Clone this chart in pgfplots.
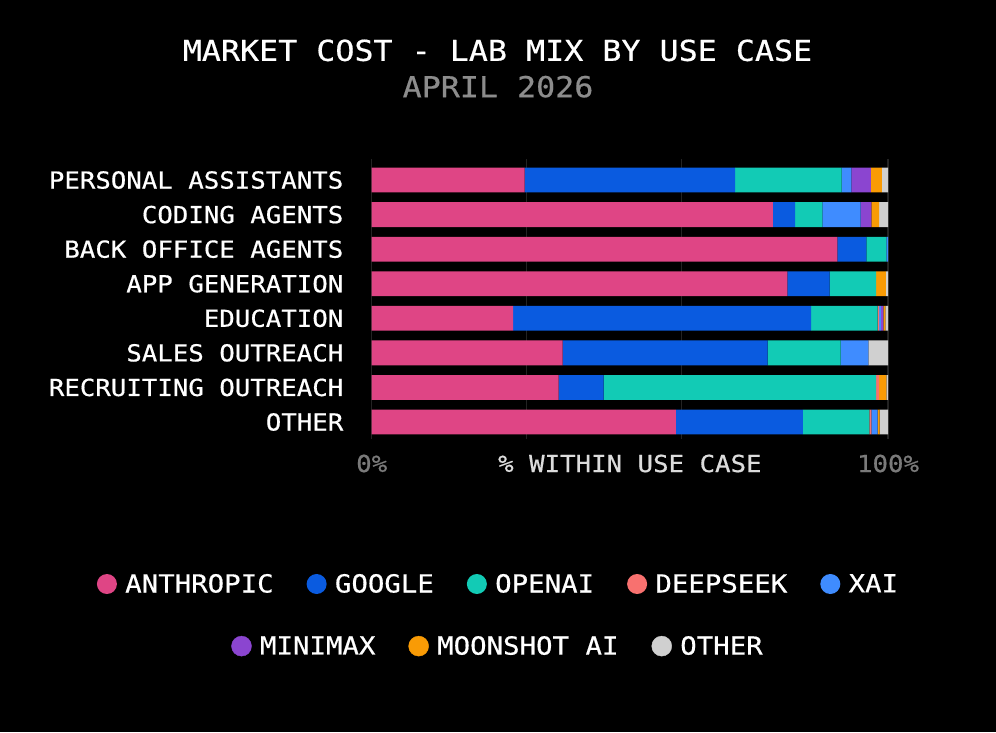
\documentclass[border=0pt]{standalone}
\usepackage{fontspec}
\setmainfont{DejaVu Sans Mono}[FakeStretch=1.1, FakeBold=0.6]
\usepackage{pgfplots}
\pgfplotsset{compat=1.18}

\definecolor{cA}{HTML}{DF4585}
\definecolor{cG}{HTML}{0A5BE0}
\definecolor{cO}{HTML}{12CBB5}
\definecolor{cD}{HTML}{F8716F}
\definecolor{cX}{HTML}{3F8CFF}
\definecolor{cM}{HTML}{8B45D0}
\definecolor{cMS}{HTML}{F99B05}
\definecolor{cOth}{HTML}{D0D0D0}
\definecolor{gridc}{HTML}{232323}
\definecolor{subgray}{HTML}{8C8C8C}
\definecolor{tickgray}{HTML}{7A7A7A}
\definecolor{labgray}{HTML}{DCDCDC}

\newcommand{\lab}{\fontsize{23.4}{26}\selectfont}
\newcommand{\leg}{\fontsize{24.9}{28}\selectfont}
\newcommand{\ttl}{\fontsize{28.8}{32}\selectfont}

\pgfplotsset{
  dotlegend/.style={legend image code/.code={\fill[#1] (10pt,0pt) circle (10pt);}},
  legrow/.style={
    legend style={draw=none, fill=none, text=white, font=\leg,
      nodes={inner sep=0pt},
      /tikz/every odd column/.append style={column sep=8.3pt},
      /tikz/every even column/.append style={column sep=33pt}},
    legend cell align=left},
}

\begin{document}
\begin{tikzpicture}
\fill[black] (0,0) rectangle (996pt,732pt);
\node[text=white, font=\ttl, inner sep=0pt] at (497.5pt,681.6pt) {MARKET COST - LAB MIX BY USE CASE};
\node[text=subgray, font=\ttl, inner sep=0pt] at (498pt,645.3pt) {APRIL 2026};

\begin{axis}[
  at={(371.7pt,293.4pt)}, anchor=south west,
  scale only axis, width=516.3pt, height=279.3pt,
  xbar stacked, bar width=24.8pt,
  y dir=reverse,
  xmin=0, xmax=100, ymin=-0.6, ymax=7.48,
  ytick={0,...,7},
  yticklabels={PERSONAL ASSISTANTS, CODING AGENTS, BACK OFFICE AGENTS, APP GENERATION, EDUCATION, SALES OUTREACH, RECRUITING OUTREACH, OTHER},
  yticklabel style={anchor=east, inner sep=0pt, xshift=-28.2pt, text=white, font=\lab},
  xtick={0,30,60,100}, xticklabels={0\%,,,100\%},
  xticklabel style={anchor=center, inner sep=0pt, yshift=-24.9pt, text=tickgray, font=\lab},
  xlabel={\% WITHIN USE CASE},
  xlabel style={at={(axis description cs:0.5,0)}, anchor=center, inner sep=0pt, yshift=-24.9pt, text=labgray, font=\lab},
  xmajorgrids, major grid style={color=gridc, line width=1.3pt},
  axis line style={draw=none}, tick style={draw=none},
  legrow,
  legend style={at={(0.2437,-0.5206)}, anchor=center},
  legend columns=5,
]
% order of rows: PA, CA, BO, AG, ED, SO, RO, OT
\addplot[fill=cA, draw=none, dotlegend=cA] coordinates {(29.6,0) (77.7,1) (90.2,2) (80.5,3) (27.4,4) (37.0,5) (36.2,6) (58.9,7)};
\addlegendentry{ANTHROPIC}
\addplot[fill=cG, draw=none, dotlegend=cG] coordinates {(40.8,0) (4.3,1) (5.6,2) (8.2,3) (57.7,4) (39.7,5) (8.7,6) (24.6,7)};
\addlegendentry{GOOGLE}
\addplot[fill=cO, draw=none, dotlegend=cO] coordinates {(20.6,0) (5.3,1) (3.9,2) (9.0,3) (12.9,4) (14.1,5) (52.8,6) (12.9,7)};
\addlegendentry{OPENAI}
\addplot[fill=cD, draw=none, dotlegend=cD] coordinates {(0,0) (0,1) (0,2) (0,3) (0.3,4) (0,5) (0.6,6) (0.4,7)};
\addlegendentry{DEEPSEEK}
\addplot[fill=cX, draw=none, dotlegend=cX] coordinates {(1.9,0) (7.4,1) (0.3,2) (0,3) (0.3,4) (5.4,5) (0,6) (1.2,7)};
\addlegendentry{XAI}
\addplot[fill=cM, draw=none] coordinates {(3.8,0) (2.1,1) (0,2) (0,3) (0.5,4) (0,5) (0,6) (0,7)};
\addplot[fill=cMS, draw=none] coordinates {(2.1,0) (1.5,1) (0,2) (1.9,3) (0.4,4) (0,5) (1.4,6) (0.4,7)};
\addplot[fill=cOth, draw=none] coordinates {(1.2,0) (1.7,1) (0,2) (0.4,3) (0.5,4) (3.8,5) (0.3,6) (1.6,7)};
\end{axis}

\begin{axis}[
  at={(371.7pt,293.4pt)}, anchor=south west,
  scale only axis, width=516.3pt, height=279.3pt,
  hide axis, xmin=0, xmax=1, ymin=0, ymax=1,
  legrow,
  legend style={at={(0.2427,-0.743)}, anchor=center},
  legend columns=3,
]
\addlegendimage{dotlegend=cM}
\addlegendentry{MINIMAX}
\addlegendimage{dotlegend=cMS}
\addlegendentry{MOONSHOT AI}
\addlegendimage{dotlegend=cOth}
\addlegendentry{OTHER}
\end{axis}
\pgfresetboundingbox
\path (0,0) rectangle (996pt,732pt);
\end{tikzpicture}
\end{document}
